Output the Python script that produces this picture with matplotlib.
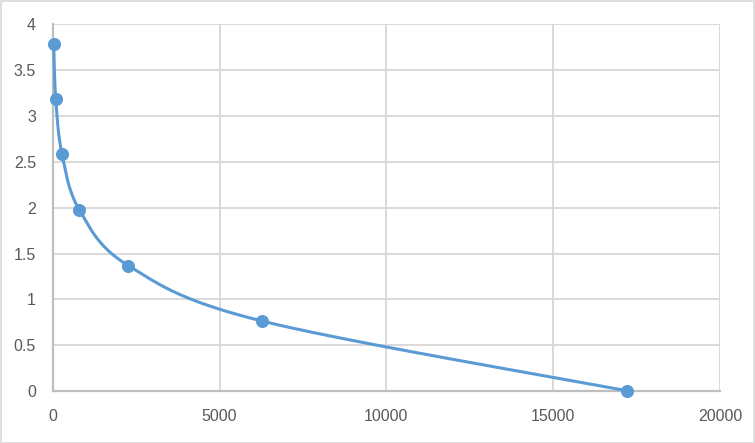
import numpy as np
import matplotlib
matplotlib.use("Agg")
import matplotlib.pyplot as plt
from matplotlib.patches import Rectangle

# Data
concentration = [30, 90, 280, 800, 2270, 6265, 17225]
od_values = [3.786, 3.184, 2.58, 1.975, 1.368, 0.766, 0.005]
x_ticks = [0, 5000, 10000, 15000, 20000]
y_ticks = [0, 0.5, 1, 1.5, 2, 2.5, 3, 3.5, 4]
y_tick_labels = ["0", "0.5", "1", "1.5", "2", "2.5", "3", "3.5", "4"]

W, H = 755, 443
fig = plt.figure(figsize=(W / 100, H / 100), dpi=100)
plt.rcParams['font.family'] = ['Liberation Sans', 'DejaVu Sans']

left, right, top, bottom = 52.7, 720.0, 24.0, 391.3
ax = fig.add_axes([left / W, 1 - bottom / H, (right - left) / W, (bottom - top) / H])
ax.set_xlim(0, 20000)
ax.set_ylim(0, 4)

blue = "#5B9BD5"
grid = "#D9D9D9"
axis_col = "#BFBFBF"
txt = "#595959"

ax.set_xticks(x_ticks)
ax.set_yticks(y_ticks)
ax.set_yticklabels(y_tick_labels)
ax.grid(True, color=grid, linewidth=1.4)
ax.set_axisbelow(True)
for s in ["top", "right"]:
    ax.spines[s].set_visible(False)
for s in ["left", "bottom"]:
    ax.spines[s].set_color(axis_col)
    ax.spines[s].set_linewidth(1.6)
ax.tick_params(length=0, colors=txt, labelsize=11.5)
ax.tick_params(axis='x', pad=13)
ax.tick_params(axis='y', pad=12)

# Excel-style smoothed line (Catmull-Rom Bezier in display space)
fig.canvas.draw()
pts = ax.transData.transform(np.column_stack([concentration, od_values]))
n = len(pts)
curve = []
for i in range(n - 1):
    p0 = pts[i - 1] if i > 0 else pts[i]
    p1 = pts[i]
    p2 = pts[i + 1]
    p3 = pts[i + 2] if i + 2 < n else pts[i + 1]
    c1 = p1 + (p2 - p0) / 6.0
    c2 = p2 - (p3 - p1) / 6.0
    t = np.linspace(0, 1, 60)[:, None]
    seg = ((1 - t) ** 3) * p1 + 3 * ((1 - t) ** 2) * t * c1 + 3 * (1 - t) * t ** 2 * c2 + t ** 3 * p2
    curve.append(seg if i == 0 else seg[1:])
curve = np.vstack(curve)
curve_data = ax.transData.inverted().transform(curve)
ax.plot(curve_data[:, 0], curve_data[:, 1], color=blue, linewidth=2.2, solid_capstyle='round', clip_on=False, zorder=3)
ax.plot(concentration, od_values, linestyle='none', marker='o', markersize=8.4,
        color=blue, clip_on=False, zorder=4)

fig.patches.append(Rectangle((0.5 / W, 0.5 / H), 1 - 1.5 / W, 1 - 1.5 / H, transform=fig.transFigure,
                             fill=False, edgecolor=grid, linewidth=1.2))

fig.savefig("out.png", dpi=100)
